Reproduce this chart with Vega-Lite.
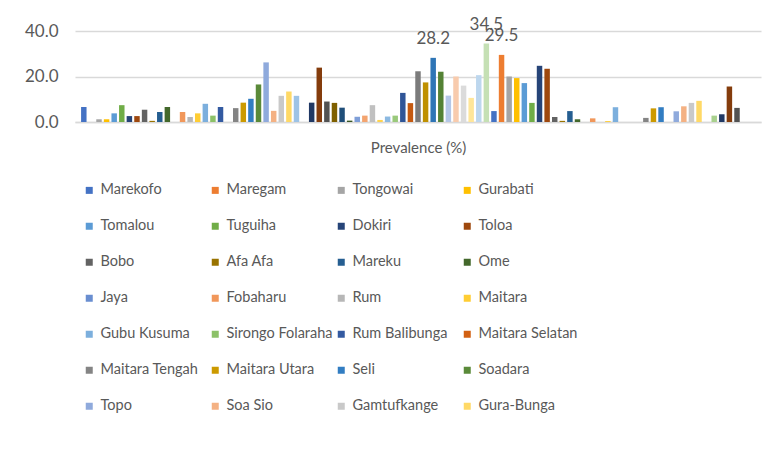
{
  "$schema": "https://vega.github.io/schema/vega-lite/v6.json",
  "width": 686,
  "height": 91,
  "autosize": {"type": "none"},
  "padding": {"left": 75, "top": 31, "right": 12, "bottom": 346},
  "background": "white",
  "config": {
    "view": {"stroke": null},
    "font": "Lato"
  },
  "data": {
    "values": [
      {"series": "Marekofo", "value": 6.6},
      {"series": "Maregam", "value": 0},
      {"series": "Tongowai", "value": 1.2},
      {"series": "Gurabati", "value": 1.2},
      {"series": "Tomalou", "value": 3.8},
      {"series": "Tuguiha", "value": 7.4},
      {"series": "Dokiri", "value": 2.6},
      {"series": "Toloa", "value": 2.6},
      {"series": "Bobo", "value": 5.4},
      {"series": "Afa Afa", "value": 0.5},
      {"series": "Mareku", "value": 4.4},
      {"series": "Ome", "value": 6.6},
      {"series": "Jaya", "value": 0},
      {"series": "Fobaharu", "value": 4.4},
      {"series": "Rum", "value": 2.2},
      {"series": "Maitara", "value": 3.8},
      {"series": "Gubu Kusuma", "value": 8.0},
      {"series": "Sirongo Folaraha", "value": 2.8},
      {"series": "Rum Balibunga", "value": 6.6},
      {"series": "Maitara Selatan", "value": 0},
      {"series": "Maitara Tengah", "value": 6.1},
      {"series": "Maitara Utara", "value": 8.5},
      {"series": "Seli", "value": 10.2},
      {"series": "Soadara", "value": 16.5},
      {"series": "Topo", "value": 26.2},
      {"series": "Soa Sio", "value": 4.9},
      {"series": "Gamtufkange", "value": 11.5},
      {"series": "Gura-Bunga", "value": 13.4},
      {"series": "Series 29", "value": 11.5},
      {"series": "Series 30", "value": 0},
      {"series": "Series 31", "value": 8.5},
      {"series": "Series 32", "value": 23.9},
      {"series": "Series 33", "value": 9.0},
      {"series": "Series 34", "value": 8.4},
      {"series": "Series 35", "value": 6.3},
      {"series": "Series 36", "value": 0.6},
      {"series": "Series 37", "value": 2.3},
      {"series": "Series 38", "value": 2.8},
      {"series": "Series 39", "value": 7.4},
      {"series": "Series 40", "value": 0.9},
      {"series": "Series 41", "value": 2.4},
      {"series": "Series 42", "value": 2.8},
      {"series": "Series 43", "value": 12.8},
      {"series": "Series 44", "value": 8.3},
      {"series": "Series 45", "value": 22.3},
      {"series": "Series 46", "value": 17.4},
      {"series": "Series 47", "value": 28.2},
      {"series": "Series 48", "value": 22.1},
      {"series": "Series 49", "value": 11.6},
      {"series": "Series 50", "value": 20.0},
      {"series": "Series 51", "value": 16.0},
      {"series": "Series 52", "value": 10.6},
      {"series": "Series 53", "value": 20.6},
      {"series": "Series 54", "value": 34.5},
      {"series": "Series 55", "value": 4.8},
      {"series": "Series 56", "value": 29.5},
      {"series": "Series 57", "value": 20.0},
      {"series": "Series 58", "value": 19.3},
      {"series": "Series 59", "value": 17.1},
      {"series": "Series 60", "value": 8.4},
      {"series": "Series 61", "value": 24.7},
      {"series": "Series 62", "value": 23.4},
      {"series": "Series 63", "value": 2.2},
      {"series": "Series 64", "value": 0.5},
      {"series": "Series 65", "value": 4.8},
      {"series": "Series 66", "value": 1.2},
      {"series": "Series 67", "value": 0},
      {"series": "Series 68", "value": 1.6},
      {"series": "Series 69", "value": 0},
      {"series": "Series 70", "value": 0.4},
      {"series": "Series 71", "value": 6.5},
      {"series": "Series 72", "value": 0},
      {"series": "Series 73", "value": 0},
      {"series": "Series 74", "value": 0},
      {"series": "Series 75", "value": 1.8},
      {"series": "Series 76", "value": 6.0},
      {"series": "Series 77", "value": 6.5},
      {"series": "Series 78", "value": 0},
      {"series": "Series 79", "value": 4.7},
      {"series": "Series 80", "value": 6.9},
      {"series": "Series 81", "value": 8.4},
      {"series": "Series 82", "value": 9.3},
      {"series": "Series 83", "value": 0},
      {"series": "Series 84", "value": 2.8},
      {"series": "Series 85", "value": 3.4},
      {"series": "Series 86", "value": 15.6},
      {"series": "Series 87", "value": 6.2},
      {"series": "Series 88", "value": 0},
      {"series": "Series 89", "value": 0}
    ]
  },
  "encoding": {
    "x": {
      "field": "series",
      "type": "nominal",
      "scale": {
        "domain": ["Marekofo","Maregam","Tongowai","Gurabati","Tomalou","Tuguiha","Dokiri","Toloa","Bobo","Afa Afa","Mareku","Ome","Jaya","Fobaharu","Rum","Maitara","Gubu Kusuma","Sirongo Folaraha","Rum Balibunga","Maitara Selatan","Maitara Tengah","Maitara Utara","Seli","Soadara","Topo","Soa Sio","Gamtufkange","Gura-Bunga","Series 29","Series 30","Series 31","Series 32","Series 33","Series 34","Series 35","Series 36","Series 37","Series 38","Series 39","Series 40","Series 41","Series 42","Series 43","Series 44","Series 45","Series 46","Series 47","Series 48","Series 49","Series 50","Series 51","Series 52","Series 53","Series 54","Series 55","Series 56","Series 57","Series 58","Series 59","Series 60","Series 61","Series 62","Series 63","Series 64","Series 65","Series 66","Series 67","Series 68","Series 69","Series 70","Series 71","Series 72","Series 73","Series 74","Series 75","Series 76","Series 77","Series 78","Series 79","Series 80","Series 81","Series 82","Series 83","Series 84","Series 85","Series 86","Series 87","Series 88","Series 89"],
        "paddingInner": 0.28,
        "paddingOuter": 0.8
      },
      "axis": {
        "labels": false,
        "ticks": false,
        "domain": true,
        "domainColor": "#D9D9D9",
        "domainWidth": 1.3,
        "title": "Prevalence (%)",
        "titleFont": "Lato",
        "titleFontSize": 15,
        "titleFontWeight": "normal",
        "titleColor": "#595959",
        "titlePadding": 18
      }
    },
    "y": {
      "field": "value",
      "type": "quantitative",
      "scale": {"domain": [0, 40], "nice": false},
      "axis": {
        "values": [0, 20, 40],
        "format": ".1f",
        "title": null,
        "domain": false,
        "ticks": false,
        "grid": true,
        "gridColor": "#D9D9D9",
        "gridWidth": 1.3,
        "labelFont": "Lato",
        "labelFontSize": 17,
        "labelColor": "#595959",
        "labelPadding": 17
      }
    }
  },
  "layer": [
    {
      "mark": {"type": "bar"},
      "encoding": {
        "color": {
          "field": "series",
          "type": "nominal",
          "scale": {
            "domain": ["Marekofo","Maregam","Tongowai","Gurabati","Tomalou","Tuguiha","Dokiri","Toloa","Bobo","Afa Afa","Mareku","Ome","Jaya","Fobaharu","Rum","Maitara","Gubu Kusuma","Sirongo Folaraha","Rum Balibunga","Maitara Selatan","Maitara Tengah","Maitara Utara","Seli","Soadara","Topo","Soa Sio","Gamtufkange","Gura-Bunga","Series 29","Series 30","Series 31","Series 32","Series 33","Series 34","Series 35","Series 36","Series 37","Series 38","Series 39","Series 40","Series 41","Series 42","Series 43","Series 44","Series 45","Series 46","Series 47","Series 48","Series 49","Series 50","Series 51","Series 52","Series 53","Series 54","Series 55","Series 56","Series 57","Series 58","Series 59","Series 60","Series 61","Series 62","Series 63","Series 64","Series 65","Series 66","Series 67","Series 68","Series 69","Series 70","Series 71","Series 72","Series 73","Series 74","Series 75","Series 76","Series 77","Series 78","Series 79","Series 80","Series 81","Series 82","Series 83","Series 84","Series 85","Series 86","Series 87","Series 88","Series 89"],
            "range": ["#4472C4","#ED7D31","#A5A5A5","#FFC000","#5B9BD5","#70AD47",
                      "#264478","#9E480E","#636363","#997300","#255E91","#43682B",
                      "#698ED0","#F1975A","#B7B7B7","#FFCD33","#7CAFDD","#8CC168",
                      "#335AA1","#D26012","#848484","#CC9A00","#327DC2","#5A8A39",
                      "#8FAADC","#F4B183","#C9C9C9","#FFD966","#9DC3E6","#A9D18E",
                      "#203864","#843C0C","#525252","#7F6000","#1F4E79","#385723",
                      "#7F9FD8","#F3A46F","#C0C0C0","#FFD34D","#8CB9E1","#9AC97B",
                      "#2F5597","#C55A11","#7B7B7B","#BF9000","#2E75B6","#548235",
                      "#B4C7E7","#F8CBAD","#DBDBDB","#FFE699","#BDD7EE","#C5E0B4",
                      "#4472C4","#ED7D31","#A5A5A5","#FFC000","#5B9BD5","#70AD47",
                      "#264478","#9E480E","#636363","#997300","#255E91","#43682B",
                      "#698ED0","#F1975A","#B7B7B7","#FFCD33","#7CAFDD","#8CC168",
                      "#335AA1","#D26012","#848484","#CC9A00","#327DC2","#5A8A39",
                      "#8FAADC","#F4B183","#C9C9C9","#FFD966","#9DC3E6","#A9D18E",
                      "#203864","#843C0C","#525252","#7F6000","#1F4E79"]
          },
          "legend": {
            "values": ["Marekofo","Maregam","Tongowai","Gurabati","Tomalou","Tuguiha","Dokiri","Toloa","Bobo","Afa Afa","Mareku","Ome","Jaya","Fobaharu","Rum","Maitara","Gubu Kusuma","Sirongo Folaraha","Rum Balibunga","Maitara Selatan","Maitara Tengah","Maitara Utara","Seli","Soadara","Topo","Soa Sio","Gamtufkange","Gura-Bunga"],
            "title": null,
            "orient": "none",
            "legendX": 7,
            "legendY": 152,
            "direction": "horizontal",
            "columns": 4,
            "gridAlign": "all",
            "columnPadding": 1,
            "rowPadding": 21,
            "padding": 0,
            "symbolType": "square",
            "symbolSize": 49,
            "symbolStrokeWidth": 0,
            "symbolOpacity": 1,
            "labelFont": "Lato",
            "labelFontSize": 14.5,
            "labelColor": "#595959",
            "labelOffset": 4,
            "labelLimit": 200
          }
        }
      }
    },
    {
      "transform": [{"filter": "datum.value > 28"}],
      "mark": {"type": "text", "baseline": "middle", "align": "center", "dy": -19, "font": "Lato", "fontSize": 17, "color": "#595959"},
      "encoding": {
        "text": {"field": "value", "type": "quantitative", "format": ".1f"}
      }
    }
  ]
}
